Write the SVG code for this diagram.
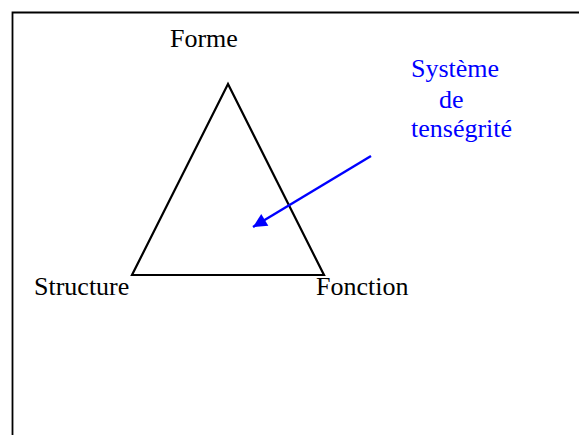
<svg xmlns="http://www.w3.org/2000/svg" width="579" height="435" viewBox="0 0 579 435">
<style>
.lbl{font-family:"Liberation Serif","Times New Roman",serif;font-size:26px;fill:#000}
.blue{fill:#0000ff}
</style>
<defs>
<marker id="ah" viewBox="0 0 10 10" refX="10" refY="5" markerWidth="7" markerHeight="5.5" markerUnits="strokeWidth" orient="auto">
<path d="M0,0 L10,5 L0,10 z" fill="#0000ff"/>
</marker>
</defs>
<rect width="579" height="435" fill="#fff"/>
<path d="M12.5,440 L12.5,12.5 L590,12.5" fill="none" stroke="#000" stroke-width="1.8"/>
<g id="triangle">
<polygon points="228,84 132,275 324,275" fill="none" stroke="#000" stroke-width="2.2" stroke-linejoin="miter"/>
</g>
<g id="forme"><text class="lbl" x="170" y="47">Forme</text></g>
<g id="structure"><text class="lbl" x="34" y="295">Structure</text></g>
<g id="fonction"><text class="lbl" x="316" y="295">Fonction</text></g>
<g id="tensegrite">
<text class="lbl blue" x="411" y="77">Système</text>
<text class="lbl blue" x="439" y="108">de</text>
<text class="lbl blue" x="411" y="137">tenségrité</text>
</g>
<g id="connectors">
<line x1="371" y1="156" x2="253" y2="227" stroke="#0000ff" stroke-width="2.5" marker-end="url(#ah)"/>
</g>
</svg>
